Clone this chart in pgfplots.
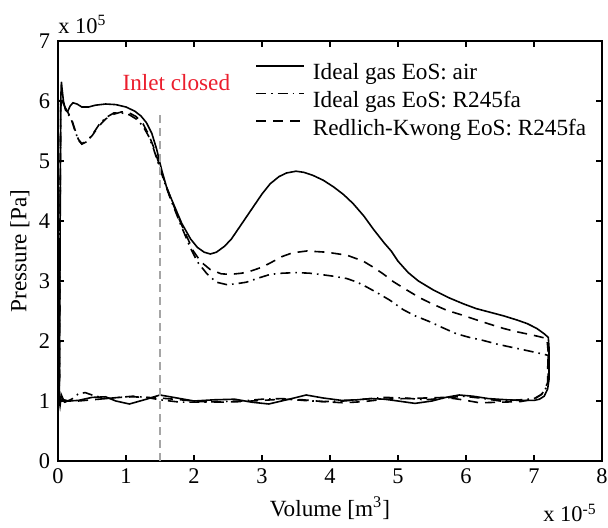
\documentclass[border=0pt]{standalone}
\usepackage{fontspec}
\setmainfont{Liberation Serif}
\usepackage{pgfplots}
\pgfplotsset{compat=1.18}
\definecolor{inletred}{RGB}{235,30,45}
\definecolor{inletgray}{RGB}{165,165,165}
\newcommand{\chartfont}{\fontsize{11.2pt}{13.4pt}\selectfont}
\newcommand{\legfont}{\fontsize{11.6pt}{13.9pt}\selectfont}
\begin{document}
\chartfont
\begin{tikzpicture}[font=\chartfont]
\path[use as bounding box] (-29pt,-33.5pt) rectangle (275pt,230.5pt);
\begin{axis}[
  at={(0,0)}, anchor=south west,
  width=272pt, height=210pt, scale only axis,
  xmin=0, xmax=8, ymin=0, ymax=7,
  xtick={0,1,2,3,4,5,6,7,8}, ytick={0,1,2,3,4,5,6,7},
  scaled ticks=false,
  /pgf/number format/assume math mode=true,
  tick align=inside, major tick length=3pt,
  every tick/.style={black, line width=0.6pt},
  axis line style={line width=0.9pt},
  clip=false,
  tick label style={font=\chartfont},
  xlabel={Volume [m\textsuperscript{3}]},
  ylabel={Pressure [Pa]},
  xlabel style={at={(axis description cs:0.5,-0.112)}, anchor=center, font=\legfont},
  ylabel style={at={(axis description cs:-0.07,0.5)}, anchor=center, font=\legfont},
  legend style={draw=none, fill=none, inner sep=0pt, at={(rel axis cs:0.362,0.947)}, anchor=north west,
    font=\legfont, row sep=4pt, column sep=4pt, nodes={inner sep=0pt}},
  legend cell align=left,
  legend image code/.code={\draw[#1] (0pt,3.8pt) -- (24pt,3.8pt);},
]
% Ideal gas EoS: air
\addplot[black, line width=0.8pt] coordinates {
(0.02,1.0) (0.03,3.5) (0.04,6.0) (0.05,6.32) (0.06,6.2) (0.08,6.0) (0.11,5.85) (0.14,5.82) (0.18,5.92) (0.22,5.97) (0.28,5.95) (0.35,5.9) (0.45,5.9) (0.55,5.93) (0.7,5.95) (0.85,5.94) (1.0,5.9) (1.13,5.83) (1.22,5.75) (1.3,5.64) (1.38,5.46) (1.45,5.2) (1.52,4.87) (1.6,4.55) (1.7,4.28) (1.82,3.96) (1.95,3.7) (2.05,3.56) (2.15,3.48) (2.24,3.45) (2.33,3.48) (2.45,3.58) (2.55,3.7) (2.7,3.95) (2.85,4.2) (3.0,4.45) (3.12,4.62) (3.25,4.74) (3.36,4.8) (3.5,4.83) (3.62,4.81) (3.75,4.76) (3.9,4.68) (4.05,4.57) (4.2,4.44) (4.34,4.29) (4.5,4.08) (4.64,3.86) (4.8,3.63) (4.9,3.5) (5.0,3.33) (5.15,3.14) (5.3,3.0) (5.52,2.85) (5.75,2.72) (5.96,2.62) (6.15,2.54) (6.35,2.48) (6.55,2.42) (6.75,2.35) (6.9,2.29) (7.04,2.21) (7.15,2.12) (7.21,2.06) (7.22,1.9) (7.22,1.6) (7.22,1.35) (7.2,1.2) (7.15,1.08) (7.08,1.03) (7.0,1.01)
(6.8,1.01) (6.6,1.02) (6.33,1.04) (6.1,1.08) (5.9,1.1) (5.7,1.06) (5.5,1.0) (5.25,0.96) (5.0,1.0) (4.8,1.03) (4.6,1.04) (4.4,1.02) (4.17,1.01) (3.9,1.05) (3.65,1.1) (3.4,1.03) (3.1,0.95) (2.85,0.98) (2.6,1.03) (2.3,1.02) (2.0,1.0) (1.75,1.05) (1.5,1.1) (1.3,1.03) (1.05,0.95) (0.85,1.0) (0.7,1.07) (0.5,1.06) (0.3,1.01) (0.15,1.0) (0.08,1.02) (0.05,1.1) (0.03,0.92) (0.02,1.0)
};
\addlegendentry{Ideal gas EoS: air}
% Ideal gas EoS: R245fa
\addplot[black, line width=0.8pt, dash pattern=on 5pt off 2.5pt on 0.8pt off 2.5pt] coordinates {
(0.02,1.0) (0.03,4.0) (0.04,5.95) (0.06,6.02) (0.1,5.9) (0.15,5.78) (0.2,5.68) (0.25,5.5) (0.3,5.35) (0.35,5.28) (0.42,5.32) (0.5,5.43) (0.6,5.6) (0.7,5.72) (0.82,5.8) (0.94,5.8) (1.05,5.77) (1.15,5.7) (1.25,5.58) (1.33,5.42) (1.4,5.22) (1.47,4.98) (1.55,4.7) (1.65,4.38) (1.8,3.95) (1.94,3.57) (2.05,3.32) (2.19,3.12) (2.33,2.98) (2.48,2.94) (2.6,2.95) (2.77,2.98) (2.95,3.05) (3.12,3.11) (3.3,3.13) (3.51,3.14) (3.7,3.13) (3.85,3.11) (4.05,3.08) (4.25,3.04) (4.4,2.98) (4.54,2.9) (4.7,2.8) (4.88,2.68) (5.08,2.52) (5.25,2.42) (5.47,2.32) (5.66,2.22) (5.86,2.12) (6.05,2.06) (6.25,2.01) (6.45,1.95) (6.65,1.9) (6.9,1.84) (7.14,1.78) (7.21,1.76) (7.21,1.5) (7.2,1.25)
(7.1,1.1) (7.0,1.04) (6.8,1.02) (6.5,1.0) (6.2,1.05) (5.95,1.08) (5.7,1.05) (5.4,1.02) (5.1,1.05) (4.8,1.06) (4.5,1.03) (4.2,1.0) (3.9,0.99) (3.6,1.01) (3.3,1.04) (3.0,1.03) (2.7,1.0) (2.4,0.99) (2.1,0.98) (1.8,0.98) (1.5,1.02) (1.3,1.06) (1.1,1.08) (0.9,1.06) (0.7,1.04) (0.5,1.1) (0.4,1.14) (0.3,1.12) (0.2,1.03) (0.1,0.98) (0.05,1.0) (0.02,1.0)
};
\addlegendentry{Ideal gas EoS: R245fa}
% Redlich-Kwong EoS: R245fa
\addplot[black, line width=0.8pt, dash pattern=on 5pt off 3.5pt] coordinates {
(0.02,1.0) (0.03,4.0) (0.04,5.9) (0.06,6.0) (0.1,5.9) (0.15,5.8) (0.2,5.7) (0.25,5.52) (0.3,5.36) (0.35,5.29) (0.42,5.33) (0.5,5.42) (0.6,5.58) (0.7,5.7) (0.82,5.78) (0.94,5.82) (1.05,5.8) (1.15,5.74) (1.25,5.62) (1.33,5.45) (1.4,5.25) (1.47,5.01) (1.55,4.72) (1.65,4.4) (1.8,3.98) (1.99,3.5) (2.1,3.32) (2.24,3.19) (2.4,3.12) (2.53,3.11) (2.7,3.13) (2.82,3.16) (3.0,3.23) (3.12,3.3) (3.3,3.41) (3.45,3.47) (3.66,3.5) (3.95,3.48) (4.25,3.43) (4.49,3.33) (4.65,3.22) (4.78,3.12) (4.93,2.99) (5.1,2.87) (5.32,2.72) (5.5,2.62) (5.72,2.51) (5.95,2.43) (6.16,2.35) (6.35,2.28) (6.55,2.21) (6.72,2.16) (6.89,2.12) (7.05,2.08) (7.19,2.04) (7.21,1.8) (7.2,1.5) (7.2,1.3)
(7.12,1.12) (7.0,1.03) (6.8,0.99) (6.5,0.98) (6.2,0.97) (5.95,1.02) (5.7,1.06) (5.4,1.05) (5.1,1.04) (4.8,1.03) (4.5,0.99) (4.2,0.97) (3.9,0.99) (3.6,1.02) (3.3,1.03) (3.0,1.01) (2.7,0.99) (2.4,0.98) (2.1,0.99) (1.8,1.02) (1.5,1.05) (1.3,1.06) (1.1,1.07) (0.9,1.06) (0.7,1.04) (0.5,1.02) (0.3,1.0) (0.15,1.0) (0.05,1.02) (0.02,1.0)
};
\addlegendentry{Redlich-Kwong EoS: R245fa}
% inlet closed marker
\addplot[inletgray, line width=0.8pt, dash pattern=on 4pt off 2.5pt, forget plot] coordinates {(1.5,0) (1.5,5.85)};
\node[text=inletred, anchor=center, font=\legfont] at (axis cs:1.74,6.3) {Inlet closed};
\node[anchor=base west, inner sep=0pt] at (rel axis cs:0,1) [yshift=4pt] {x 10\textsuperscript{5}};
\node[anchor=base east, inner sep=0pt] at (rel axis cs:1,0) [yshift=-30.5pt, xshift=-2.5pt] {x 10\textsuperscript{-5}};
\end{axis}
\end{tikzpicture}
\end{document}
